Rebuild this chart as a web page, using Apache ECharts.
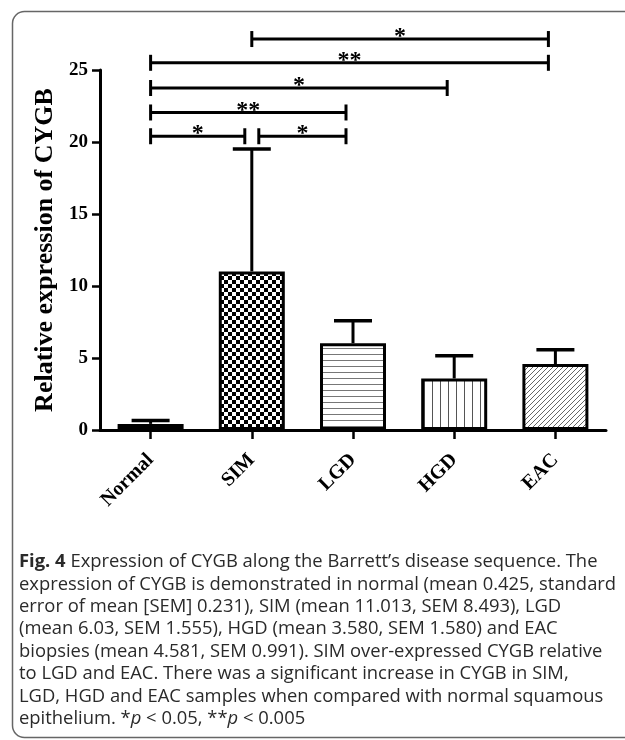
<!DOCTYPE html>
<html>
<head>
<meta charset="utf-8">
<script src="https://cdn.jsdelivr.net/npm/echarts@6/dist/echarts.min.js"></script>
<style>
html,body{margin:0;padding:0;background:#fff;}
#chart{width:625px;height:740px;}
</style>
</head>
<body>
<div id="chart"></div>
<script>
// ---- data ----
const categories = ['Normal', 'SIM', 'LGD', 'HGD', 'EAC'];
const means = [0.425, 11.013, 6.03, 3.58, 4.581];
const sems = [0.231, 8.493, 1.555, 1.58, 0.991];
const yTicks = [0, 5, 10, 15, 20, 25];
// significance brackets (category indices, height in axis units, label)
const bracketFrom = [1, 0, 0, 0, 0, 1];
const bracketTo = [4, 4, 3, 2, 1, 2];
const bracketLevel = [27.15, 25.5, 23.75, 22.05, 20.4, 20.4];
const bracketLabel = ['*', '**', '*', '**', '*', '*'];
const captionLines = [
  '{b|Fig. 4} Expression of CYGB along the Barrett\u2019s disease sequence. The',
  'expression of CYGB is demonstrated in normal (mean 0.425, standard',
  'error of mean [SEM] 0.231), SIM (mean 11.013, SEM 8.493), LGD',
  '(mean 6.03, SEM 1.555), HGD (mean 3.580, SEM 1.580) and EAC',
  'biopsies (mean 4.581, SEM 0.991). SIM over-expressed CYGB relative',
  'to LGD and EAC. There was a significant increase in CYGB in SIM,',
  'LGD, HGD and EAC samples when compared with normal squamous',
  'epithelium. *{i|p} < 0.05, **{i|p} < 0.005'
];

// ---- patterns ----
function makeCanvas(w, h, draw) {
  const c = document.createElement('canvas');
  c.width = w; c.height = h;
  const g = c.getContext('2d');
  draw(g, w, h);
  return c;
}
const patNormal = makeCanvas(6, 2, (g) => {
  g.fillStyle = '#000'; g.fillRect(0, 0, 6, 2);
  g.fillStyle = '#fff'; g.fillRect(2, 0, 3, 1);
});
const patChecker = makeCanvas(8, 8, (g) => {
  g.fillStyle = '#fff'; g.fillRect(0, 0, 8, 8);
  g.fillStyle = '#000'; g.fillRect(0, 0, 4, 4); g.fillRect(4, 4, 4, 4);
});
const patHoriz = makeCanvas(6, 6, (g) => {
  g.fillStyle = '#fff'; g.fillRect(0, 0, 6, 6);
  g.fillStyle = '#777'; g.fillRect(0, 0, 6, 1);
});
const patVert = makeCanvas(8, 8, (g) => {
  g.fillStyle = '#fff'; g.fillRect(0, 0, 8, 8);
  g.fillStyle = '#555'; g.fillRect(0, 0, 1, 8);
});
const patDiag = makeCanvas(5, 5, (g) => {
  g.fillStyle = '#fff'; g.fillRect(0, 0, 5, 5);
  g.strokeStyle = '#666'; g.lineWidth = 1;
  g.beginPath();
  g.moveTo(-1, 6); g.lineTo(6, -1);
  g.moveTo(-1, 1); g.lineTo(1, -1);
  g.moveTo(4, 6); g.lineTo(6, 4);
  g.stroke();
});
const patterns = [patNormal, patChecker, patHoriz, patVert, patDiag];

const serif = '"Liberation Serif", "Times New Roman", serif';
const sans = '"Open Sans", sans-serif';

const chart = echarts.init(document.getElementById('chart'), null, {renderer: 'canvas'});

const captionGraphics = captionLines.map((t, i) => ({
  type: 'text',
  left: 19,
  top: 553 + i * 22.4,
  z: 10,
  style: {
    text: t,
    fontFamily: sans,
    fontSize: 18.4,
    fill: '#2a2a2a',
    rich: {
      b: {fontWeight: 'bold', fontFamily: sans, fontSize: 18.4, fill: '#2a2a2a'},
      i: {fontStyle: 'italic', fontFamily: sans, fontSize: 18.4, fill: '#2a2a2a'}
    }
  }
}));

const option = {
  backgroundColor: '#fff',
  animation: false,
  grid: {left: 100, top: 70, width: 506, height: 360, containLabel: false},
  xAxis: {
    type: 'category',
    data: categories,
    axisLine: {show: true, lineStyle: {color: '#000', width: 3}},
    axisTick: {show: true, alignWithLabel: true, length: 9, lineStyle: {color: '#000', width: 2.5}},
    axisLabel: {rotate: 45, margin: 27, color: '#000', fontFamily: serif, fontWeight: 'bold', fontSize: 20},
    splitLine: {show: false}
  },
  yAxis: {
    type: 'value',
    min: 0, max: 25, interval: 5,
    name: 'Relative expression of CYGB',
    nameLocation: 'middle',
    nameGap: 37,
    nameTextStyle: {color: '#000', fontFamily: serif, fontWeight: 'bold', fontSize: 26},
    axisLine: {show: true, lineStyle: {color: '#000', width: 3}},
    axisTick: {show: true, length: 8, lineStyle: {color: '#000', width: 2.5}},
    axisLabel: {
      color: '#000', fontFamily: serif, fontWeight: 'bold', fontSize: 19, margin: 12,
      formatter: (v) => (yTicks.indexOf(v) >= 0 ? String(v) : '')
    },
    splitLine: {show: false}
  },
  graphic: [
    {
      type: 'rect', left: 10, top: 9, z: 0,
      shape: {width: 680, height: 726, r: 12},
      style: {fill: 'none', stroke: '#666', lineWidth: 1.5}
    }
  ].concat(captionGraphics),
  series: [
    {
      type: 'bar',
      barWidth: 66,
      data: means.map((m, i) => ({
        value: m,
        itemStyle: {color: {image: patterns[i], repeat: 'repeat'}}
      })),
      itemStyle: {borderColor: '#000', borderWidth: 3},
      z: 2
    },
    {
      type: 'custom',
      z: 3,
      clip: false,
      data: means.map((m, i) => [i, m, sems[i]]),
      encode: {x: 0, y: 1},
      renderItem: function (params, api) {
        const x = api.value(0), m = api.value(1), s = api.value(2);
        const p0 = api.coord([x, m]);
        const p1 = api.coord([x, m + s]);
        return {
          type: 'group',
          children: [
            {type: 'line', shape: {x1: p0[0], y1: p0[1], x2: p1[0], y2: p1[1]}, style: {stroke: '#000', lineWidth: 3}},
            {type: 'line', shape: {x1: p1[0] - 19, y1: p1[1], x2: p1[0] + 19, y2: p1[1]}, style: {stroke: '#000', lineWidth: 3.5}}
          ]
        };
      }
    },
    {
      type: 'custom',
      z: 4,
      clip: false,
      data: bracketFrom.map((f, i) => [f, bracketTo[i], bracketLevel[i]]),
      encode: {x: [0, 1], y: 2},
      renderItem: function (params, api) {
        const i = params.dataIndex;
        const from = api.value(0), to = api.value(1), lvl = api.value(2);
        const c1 = api.coord([from, lvl]);
        const c2 = api.coord([to, lvl]);
        // leave a gap when another bracket at this level ends where this one starts
        let adjoin = false;
        for (let k = 0; k < bracketFrom.length; k++) {
          if (k !== i && bracketLevel[k] === bracketLevel[i] && bracketTo[k] === bracketFrom[i]) adjoin = true;
        }
        const x1 = c1[0] + (adjoin ? 7 : 0);
        const x2 = c2[0] - 7;
        const y = c1[1];
        return {
          type: 'group',
          children: [
            {type: 'line', shape: {x1: x1, y1: y, x2: x2, y2: y}, style: {stroke: '#000', lineWidth: 3}},
            {type: 'line', shape: {x1: x1, y1: y - 8, x2: x1, y2: y + 8}, style: {stroke: '#000', lineWidth: 3}},
            {type: 'line', shape: {x1: x2, y1: y - 8, x2: x2, y2: y + 8}, style: {stroke: '#000', lineWidth: 3}},
            {type: 'text', style: {
              text: bracketLabel[i], x: (x1 + x2) / 2, y: y - 2,
              align: 'center', verticalAlign: 'middle',
              fontFamily: serif, fontWeight: 'bold', fontSize: 24, fill: '#000'
            }}
          ]
        };
      }
    }
  ]
};
chart.setOption(option);
</script>
</body>
</html>
